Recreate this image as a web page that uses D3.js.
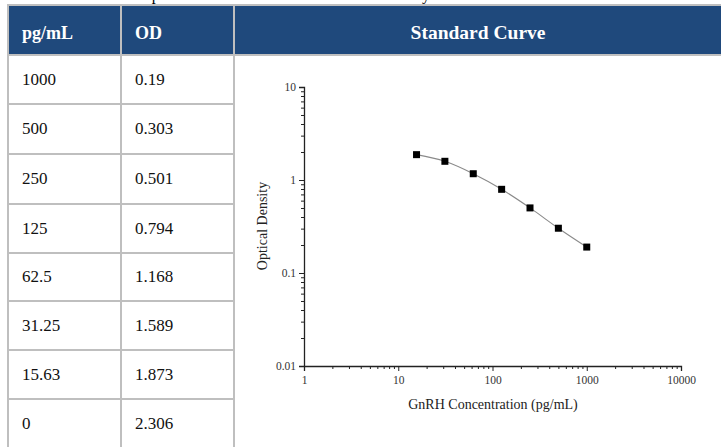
<!DOCTYPE html>
<html><head><meta charset="utf-8">
<script src="https://cdn.jsdelivr.net/npm/d3@7"></script>
<style>
html,body{margin:0;padding:0;background:#fff;overflow:hidden}
svg{display:block;font-family:"Liberation Serif","Times New Roman",serif}
</style></head>
<body><svg id="c" width="721" height="447"></svg>
<script>
// ---- data ----
const headers = ["pg/mL", "OD", "Standard Curve"];
const concLabels = ["1000", "500", "250", "125", "62.5", "31.25", "15.63", "0"];
const odLabels = ["0.19", "0.303", "0.501", "0.794", "1.168", "1.589", "1.873", "2.306"];
const concentrations = [1000, 500, 250, 125, 62.5, 31.25, 15.63, 0];
const odValues = [0.19, 0.303, 0.501, 0.794, 1.168, 1.589, 1.873, 2.306];
const xMajorTicks = [1, 10, 100, 1000, 10000];
const yMajorTicks = [0.01, 0.1, 1, 10];
const xTitle = "GnRH Concentration (pg/mL)";
const yTitle = "Optical Density";
const caption = "This standard curve is provided for the demonstration of the assay.";

// ---- layout ----
const svg = d3.select("#c");
const W = 721, H = 447;
const colX = [8, 121, 234, 760];
const headTop = 6, headBot = 55;
const rowLines = [55, 104, 154, 204, 253, 301, 350, 399, 448];
const border = "#bfbfbf", headFill = "#1f497c";

svg.append("rect").attr("width", W).attr("height", H).attr("fill", "#fff");
svg.append("text").attr("x", 7).attr("y", 0).attr("font-size", 16).attr("fill", "#000").text(caption);

// header
svg.append("rect").attr("x", colX[0]).attr("y", headTop).attr("width", W - colX[0]).attr("height", headBot - headTop).attr("fill", headFill);
svg.append("line").attr("x1", 7).attr("x2", W).attr("y1", 5).attr("y2", 5).attr("stroke", border).attr("stroke-width", 2);
svg.append("line").attr("x1", 7).attr("x2", W).attr("y1", headBot).attr("y2", headBot).attr("stroke", border).attr("stroke-width", 2);
// row lines (first two columns)
rowLines.slice(1, -1).forEach(y => {
  svg.append("line").attr("x1", 7).attr("x2", colX[2]).attr("y1", y).attr("y2", y).attr("stroke", border).attr("stroke-width", 2);
});
// vertical lines
colX.slice(0, 3).forEach(x => {
  svg.append("line").attr("x1", x).attr("x2", x).attr("y1", 4).attr("y2", H).attr("stroke", border).attr("stroke-width", 2);
});
// header texts
svg.append("text").attr("x", 22).attr("y", 39).attr("font-size", 18).attr("font-weight", "bold").attr("fill", "#fff").text(headers[0]);
svg.append("text").attr("x", 135).attr("y", 39).attr("font-size", 18).attr("font-weight", "bold").attr("fill", "#fff").text(headers[1]);
svg.append("text").attr("x", 478).attr("y", 39).attr("text-anchor", "middle").attr("font-size", 19.5).attr("font-weight", "bold").attr("fill", "#fff").text(headers[2]);
// body texts
concLabels.forEach((t, i) => {
  const yc = (rowLines[i] + rowLines[i + 1]) / 2 + 5;
  svg.append("text").attr("x", 22).attr("y", yc).attr("font-size", 17).attr("fill", "#111").text(t);
  svg.append("text").attr("x", 135).attr("y", yc).attr("font-size", 17).attr("fill", "#111").text(odLabels[i]);
});

// ---- chart ----
const x = d3.scaleLog().domain([1, 10000]).range([304, 681]);
const y = d3.scaleLog().domain([0.01, 10]).range([366, 87]);

function minorTicks(domain) {
  const out = [];
  for (let p = Math.log10(domain[0]); p < Math.log10(domain[1]); p++) {
    for (let k = 2; k <= 9; k++) out.push(k * Math.pow(10, p));
  }
  return out;
}

const g = svg.append("g");
const yAxis = g.append("g").attr("transform", "translate(304,0)")
  .call(d3.axisLeft(y).tickValues(yMajorTicks).tickSize(5).tickPadding(3).tickFormat(d => String(d)));
const yMinor = g.append("g").attr("transform", "translate(304,0)")
  .call(d3.axisLeft(y).tickValues(minorTicks([0.01, 10])).tickSize(3).tickFormat(""));
const xAxis = g.append("g").attr("transform", "translate(0,366)")
  .call(d3.axisBottom(x).tickValues(xMajorTicks).tickSize(5).tickPadding(5).tickFormat(d => String(d)));
const xMinor = g.append("g").attr("transform", "translate(0,366)")
  .call(d3.axisBottom(x).tickValues(minorTicks([1, 10000])).tickSize(3).tickFormat(""));
[yAxis, yMinor, xAxis, xMinor].forEach(a => {
  a.selectAll(".domain").attr("stroke", "#222").attr("stroke-width", 1.3);
  a.selectAll(".tick line").attr("stroke", "#222");
  a.selectAll("text").attr("font-family", "Liberation Serif").attr("font-size", 11.5).attr("fill", "#333");
});
xMinor.select(".domain").remove();
yMinor.select(".domain").remove();

// titles
g.append("text").attr("transform", "translate(267,226) rotate(-90)").attr("text-anchor", "middle")
  .attr("font-size", 14).attr("fill", "#222").text(yTitle);
g.append("text").attr("x", 493).attr("y", 409).attr("text-anchor", "middle")
  .attr("font-size", 14).attr("fill", "#222").text(xTitle);

// curve
const pts = concentrations.map((c, i) => ({ c, od: odValues[i] })).filter(d => d.c > 0).sort((a, b) => a.c - b.c);
g.append("path").datum(pts)
  .attr("d", d3.line().x(d => x(d.c)).y(d => y(d.od)).curve(d3.curveMonotoneX))
  .attr("fill", "none").attr("stroke", "#8a8a8a").attr("stroke-width", 1.1);
g.selectAll("rect.pt").data(pts).enter().append("rect").attr("class", "pt")
  .attr("x", d => x(d.c) - 3.5).attr("y", d => y(d.od) - 3.5)
  .attr("width", 7).attr("height", 7).attr("fill", "#000");
</script></body></html>
